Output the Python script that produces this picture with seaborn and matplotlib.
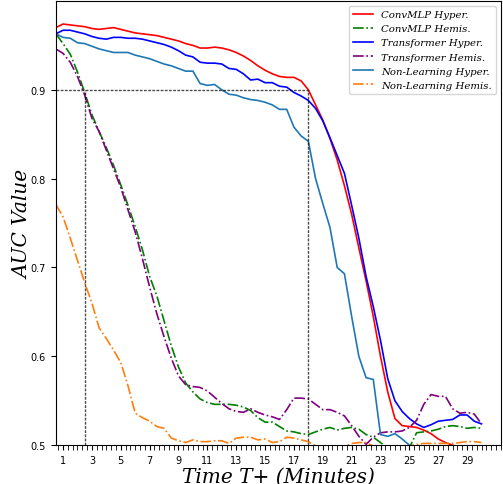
import matplotlib
matplotlib.use("Agg")
import matplotlib.pyplot as plt
from matplotlib.ticker import MultipleLocator
import numpy as np
import pandas as pd
import seaborn as sns

# time steps (minutes)
minutes = np.arange(1, 61) / 2.0

convmlp_hyper = [0.970, 0.974, 0.973, 0.972, 0.971, 0.969, 0.968, 0.969, 0.970, 0.968,
                 0.966, 0.964, 0.963, 0.962, 0.961, 0.959, 0.957, 0.955, 0.952, 0.950,
                 0.947, 0.947, 0.948, 0.947, 0.945, 0.942, 0.938, 0.933, 0.927, 0.922,
                 0.918, 0.915, 0.914, 0.914, 0.910, 0.900, 0.883, 0.866, 0.845, 0.821,
                 0.792, 0.760, 0.722, 0.685, 0.645, 0.600, 0.560, 0.530, 0.522, 0.521,
                 0.520, 0.517, 0.513, 0.507, 0.503, 0.500, 0.497, 0.495, 0.495, 0.495]
convmlp_hemis = [0.963, 0.952, 0.940, 0.920, 0.897, 0.872, 0.853, 0.835, 0.815, 0.793,
                 0.770, 0.746, 0.720, 0.690, 0.668, 0.640, 0.612, 0.588, 0.570, 0.560,
                 0.552, 0.548, 0.546, 0.546, 0.546, 0.545, 0.543, 0.539, 0.531, 0.526,
                 0.526, 0.521, 0.516, 0.515, 0.513, 0.512, 0.515, 0.518, 0.520, 0.517,
                 0.519, 0.520, 0.518, 0.512, 0.509, 0.503, 0.497, 0.494, 0.495, 0.497,
                 0.514, 0.515, 0.516, 0.518, 0.521, 0.522, 0.521, 0.519, 0.520, 0.519]
transformer_hyper = [0.963, 0.967, 0.967, 0.965, 0.963, 0.960, 0.958, 0.957, 0.959, 0.959,
                     0.958, 0.958, 0.957, 0.955, 0.953, 0.951, 0.948, 0.944, 0.939, 0.937,
                     0.931, 0.930, 0.930, 0.929, 0.924, 0.923, 0.918, 0.911, 0.912, 0.908,
                     0.908, 0.904, 0.903, 0.897, 0.893, 0.888, 0.879, 0.865, 0.846, 0.826,
                     0.806, 0.770, 0.733, 0.690, 0.656, 0.618, 0.575, 0.550, 0.538, 0.530,
                     0.524, 0.520, 0.523, 0.527, 0.528, 0.529, 0.534, 0.534, 0.527, 0.524]
transformer_hemis = [0.946, 0.941, 0.931, 0.915, 0.894, 0.868, 0.853, 0.832, 0.811, 0.790,
                     0.765, 0.740, 0.710, 0.678, 0.648, 0.622, 0.598, 0.578, 0.568, 0.566,
                     0.565, 0.561, 0.554, 0.547, 0.541, 0.538, 0.537, 0.541, 0.537, 0.534,
                     0.532, 0.529, 0.540, 0.553, 0.553, 0.552, 0.546, 0.540, 0.540, 0.537,
                     0.533, 0.522, 0.510, 0.501, 0.509, 0.514, 0.515, 0.515, 0.516, 0.520,
                     0.528, 0.546, 0.557, 0.555, 0.555, 0.541, 0.536, 0.537, 0.535, 0.524]
nonlearn_hyper = [0.963, 0.959, 0.958, 0.953, 0.952, 0.949, 0.946, 0.944, 0.942, 0.942,
                  0.942, 0.939, 0.937, 0.935, 0.932, 0.929, 0.927, 0.924, 0.921, 0.921,
                  0.907, 0.905, 0.906, 0.900, 0.895, 0.894, 0.891, 0.889, 0.888, 0.886,
                  0.883, 0.878, 0.878, 0.858, 0.848, 0.842, 0.800, 0.772, 0.745, 0.700,
                  0.693, 0.645, 0.600, 0.576, 0.574, 0.512, 0.510, 0.513, 0.507, 0.500,
                  0.493, 0.490, 0.490, 0.490, 0.490, 0.490, 0.490, 0.490, 0.490, 0.490]
nonlearn_hemis = [0.771, 0.757, 0.733, 0.708, 0.683, 0.660, 0.632, 0.620, 0.607, 0.593,
                  0.567, 0.536, 0.531, 0.527, 0.521, 0.519, 0.508, 0.505, 0.503, 0.506,
                  0.504, 0.504, 0.505, 0.505, 0.502, 0.508, 0.509, 0.509, 0.506, 0.507,
                  0.503, 0.504, 0.509, 0.508, 0.506, 0.504, 0.499, 0.498, 0.497, 0.497,
                  0.498, 0.502, 0.503, 0.503, 0.499, 0.497, 0.497, 0.497, 0.498, 0.499,
                  0.501, 0.502, 0.502, 0.502, 0.502, 0.502, 0.503, 0.504, 0.504, 0.503]

threshold = 0.9
cross_times = [2.5, 18]

series = [
    ("ConvMLP Hyper.", convmlp_hyper, "red", "-"),
    ("ConvMLP Hemis.", convmlp_hemis, "green", "-."),
    ("Transformer Hyper.", transformer_hyper, "blue", "-"),
    ("Transformer Hemis.", transformer_hemis, "purple", "-."),
    ("Non-Learning Hyper.", nonlearn_hyper, "tab:blue", "-"),
    ("Non-Learning Hemis.", nonlearn_hemis, "tab:orange", "-."),
]

fig = plt.figure(figsize=(5.03, 4.85), dpi=100)
ax = fig.add_axes([0.111, 0.080, 0.885, 0.916])

for name, vals, col, ls in series:
    sns.lineplot(x=minutes, y=vals, ax=ax, color=col, linestyle=ls, linewidth=1.2, label=name)

# threshold guide lines
ax.hlines(threshold, minutes[0], max(cross_times), colors="black", linestyles=(0, (2, 1)),
          linewidth=1, alpha=0.7)
for t in cross_times:
    ax.vlines(t, 0.5, threshold, colors="black", linestyles=(0, (2, 1)), linewidth=1, alpha=0.7)

ax.set_xlim(0.5, 31.35)
ax.set_ylim(0.5, 1.0)
ax.set_yticks([0.5, 0.6, 0.7, 0.8, 0.9])
ax.set_xticks(np.arange(1, 30, 2))
ax.xaxis.set_minor_locator(MultipleLocator(1 / 3))
ax.tick_params(axis="both", which="major", labelsize=7)
ax.tick_params(axis="x", which="minor", length=3.5)

ax.set_xlabel("Time T+ (Minutes)", family="DejaVu Serif", style="italic", fontsize=14.5, labelpad=1)
ax.set_ylabel("AUC Value", family="DejaVu Serif", style="italic", fontsize=14.5, labelpad=-1)

ax.legend(loc="upper right", prop={"family": "DejaVu Serif", "style": "italic", "size": 7.3})

fig.savefig("out.png", dpi=100)
